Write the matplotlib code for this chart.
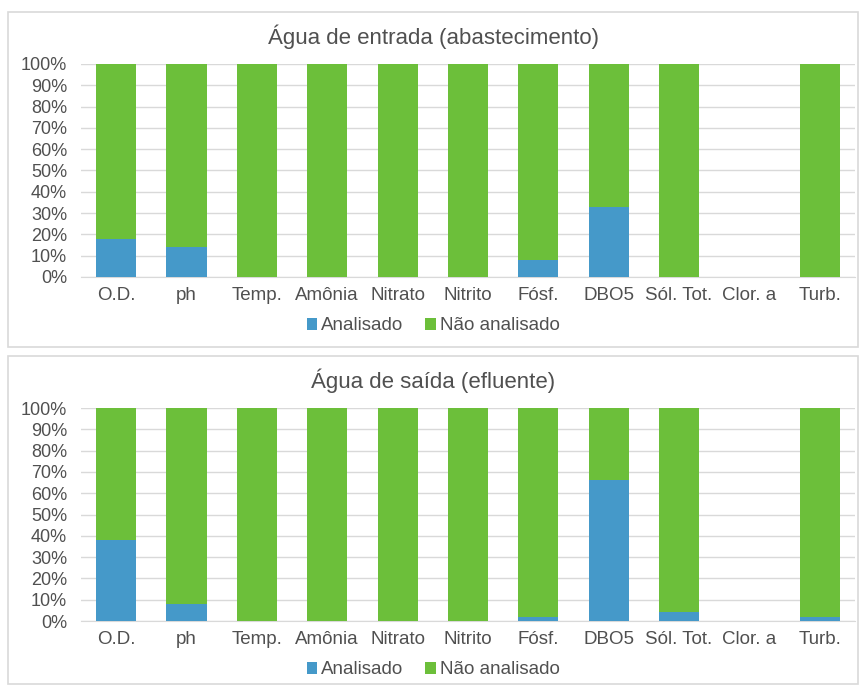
import matplotlib.pyplot as plt
from matplotlib.patches import Rectangle
import numpy as np

plt.rcParams['font.family'] = ['Liberation Sans', 'DejaVu Sans']

# categorias e valores (% analisado)
categorias = ["O.D.", "ph", "Temp.", "Amônia", "Nitrato", "Nitrito",
              "Fósf.", "DBO5", "Sól. Tot.", "Clor. a", "Turb."]
entrada_analisado = [18, 14, 0, 0, 0, 0, 8, 33, 0, 0, 0]
entrada_nao = [82, 86, 100, 100, 100, 100, 92, 67, 100, 0, 100]
saida_analisado = [38, 8, 0, 0, 0, 0, 2, 66, 4, 0, 2]
saida_nao = [62, 92, 100, 100, 100, 100, 98, 34, 96, 0, 98]

titulos = ["Água de entrada (abastecimento)", "Água de saída (efluente)"]
AZUL = "#4599C9"
VERDE = "#6CBF3A"
TEXTO = "#505050"

W, H = 859, 685
fig = plt.figure(figsize=(W / 100, H / 100), dpi=100)

# caixas dos painéis (em pixels: x0, y0 topo, x1, y1 base)
caixas = [(8, 12, 858, 347), (8, 356, 858, 684)]
# área do gráfico: (esq, topo 100%, dir, base 0%)
areas = [(81, 64, 855, 277), (81, 408, 855, 621)]
dados = [(entrada_analisado, entrada_nao), (saida_analisado, saida_nao)]

for caixa, area, (anal, nao), titulo in zip(caixas, areas, dados, titulos):
    x0, y0, x1, y1 = caixa
    fig.patches.append(Rectangle((x0 / W, 1 - y1 / H), (x1 - x0) / W, (y1 - y0) / H,
                                 transform=fig.transFigure, fill=False,
                                 edgecolor="#D9D9D9", linewidth=1.2))
    l, t, r, b = area
    ax = fig.add_axes([l / W, 1 - b / H, (r - l) / W, (b - t) / H])
    x = np.arange(len(categorias))
    ax.bar(x, anal, width=0.57, color=AZUL, label="Analisado", zorder=3)
    ax.bar(x, nao, width=0.57, bottom=anal, color=VERDE, label="Não analisado", zorder=3)
    ax.set_xlim(-0.5, len(categorias) - 0.5)
    ax.set_ylim(0, 100)
    ax.set_yticks(range(0, 101, 10))
    ax.set_yticklabels([f"{v}%" for v in range(0, 101, 10)])
    ax.set_xticks(x)
    ax.set_xticklabels(categorias)
    ax.tick_params(axis="both", length=0, labelsize=13.5, colors=TEXTO)
    ax.tick_params(axis="y", labelsize=13)
    ax.tick_params(axis="x", pad=7)
    ax.tick_params(axis="y", pad=10)
    ax.grid(axis="y", color="#D9D9D9", linewidth=1, zorder=0)
    for s in ["top", "right", "left"]:
        ax.spines[s].set_visible(False)
    ax.spines["bottom"].set_color("#D9D9D9")
    fig.text((x0 + x1) / 2 / W, 1 - (t - 27) / H, titulo, ha="center", va="center",
             fontsize=16, color=TEXTO)
    fig.legend(handles=ax.get_legend_handles_labels()[0],
               labels=ax.get_legend_handles_labels()[1],
               loc="center", bbox_to_anchor=(0.5 * (x0 + x1) / W, 1 - (b + 49) / H),
               ncol=2, frameon=False, fontsize=13.5, handlelength=0.55, handleheight=0.55,
               handletextpad=0.2, columnspacing=1.2, labelcolor=TEXTO)

fig.savefig("out.png", dpi=100)
